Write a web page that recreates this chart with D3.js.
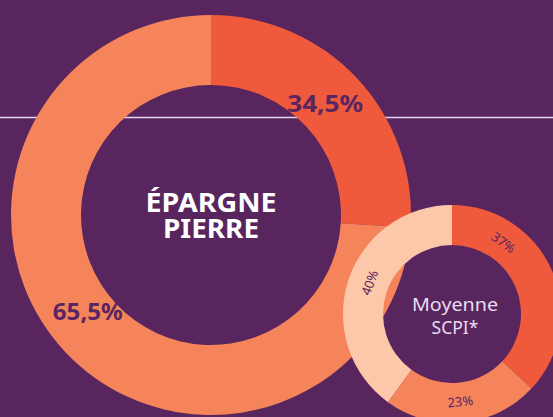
<!DOCTYPE html>
<html>
<head>
<meta charset="utf-8">
<script src="https://cdn.jsdelivr.net/npm/d3@7"></script>
<style>
  html, body { margin: 0; padding: 0; background: #58255F; }
  svg { display: block; }
</style>
</head>
<body>
<script>
// ---- data ----
const bigCategories = ["Part A", "Part B"];
const bigLabels = ["34,5%", "65,5%"];          // printed values
const bigArcShares = [26, 74];                  // slice sizes as drawn in the picture
const bigTitle = ["ÉPARGNE", "PIERRE"];

const smallCategories = ["A", "B", "C"];
const smallValues = [37, 23, 40];
const smallLabels = ["37%", "23%", "40%"];
const smallTitle = ["Moyenne", "SCPI*"];

// ---- setup ----
const W = 553, H = 417;
const svg = d3.select("body").append("svg").attr("width", W).attr("height", H);
svg.append("rect").attr("width", W).attr("height", H).attr("fill", "#58255F");

// horizontal rule behind the chart
svg.append("line").attr("x1", 0).attr("x2", W).attr("y1", 117.5).attr("y2", 117.5)
  .attr("stroke", "#E4D6EC").attr("stroke-width", 1.6);

const FONT = "'Noto Sans', 'Open Sans', sans-serif";
const labelColor = "#5A2662";
const pie = d3.pie().sort(null);

// ---- big donut ----
const bigColor = d3.scaleOrdinal().domain(bigCategories).range(["#F05A3C", "#F5845B"]);
const gBig = svg.append("g").attr("transform", "translate(211,215)");
const bigArc = d3.arc().innerRadius(130).outerRadius(200);
const bigLabelArc = d3.arc().innerRadius(158).outerRadius(158);
const bigPie = pie(bigArcShares);
gBig.selectAll("path").data(bigPie).join("path")
  .attr("d", bigArc)
  .attr("fill", (d, i) => bigColor(bigCategories[i]));

const bigLabelOffsets = [[-1, -3.5], [-8, -12]];
const bigLabelWidths = [76, 70];
gBig.selectAll("text.val").data(bigPie).join("text").attr("class", "val")
  .attr("x", (d, i) => bigLabelArc.centroid(d)[0] + bigLabelOffsets[i][0])
  .attr("y", (d, i) => bigLabelArc.centroid(d)[1] + bigLabelOffsets[i][1])
  .attr("dy", "0.36em")
  .attr("text-anchor", "middle")
  .attr("font-family", FONT).attr("font-weight", 700).attr("font-size", 23.5)
  .attr("textLength", (d, i) => bigLabelWidths[i]).attr("lengthAdjust", "spacingAndGlyphs")
  .attr("fill", labelColor)
  .text((d, i) => bigLabels[i]);

const bigTitleWidths = [131, 96];
gBig.selectAll("text.title").data(bigTitle).join("text").attr("class", "title")
  .attr("x", 0).attr("y", (d, i) => -3 + i * 26)
  .attr("text-anchor", "middle")
  .attr("font-family", FONT).attr("font-weight", 700).attr("font-size", 27.5)
  .attr("textLength", (d, i) => bigTitleWidths[i]).attr("lengthAdjust", "spacingAndGlyphs")
  .attr("fill", "#FFFFFF")
  .text(d => d);

// ---- small donut ----
const smallColor = d3.scaleOrdinal().domain(smallCategories).range(["#F05A3C", "#F5845B", "#FDC7AA"]);
const gSmall = svg.append("g").attr("transform", "translate(452,314)");
const smallArc = d3.arc().innerRadius(69).outerRadius(109);
const smallPie = pie(smallValues);
gSmall.selectAll("path").data(smallPie).join("path")
  .attr("d", smallArc)
  .attr("fill", (d, i) => smallColor(smallCategories[i]));

const smallLabelR = 88;
const smallLabelShift = [-0.54, 0, 0.05]; // angular nudge (radians) of each label
gSmall.selectAll("text.val").data(smallPie).join("text").attr("class", "val")
  .attr("transform", (d, i) => {
    const a = (d.startAngle + d.endAngle) / 2 + smallLabelShift[i];
    const x = smallLabelR * Math.sin(a), y = -smallLabelR * Math.cos(a);
    let deg = a * 180 / Math.PI;
    if (deg > 90 && deg < 270) deg -= 180;
    else if (deg >= 270) deg -= 360;
    return `translate(${x},${y}) rotate(${deg})`;
  })
  .attr("dy", "0.36em")
  .attr("text-anchor", "middle")
  .attr("font-family", FONT).attr("font-weight", 400).attr("font-size", 13)
  .attr("fill", labelColor)
  .text((d, i) => smallLabels[i]);

const smallTitleWidths = [86, 47];
gSmall.selectAll("text.title").data(smallTitle).join("text").attr("class", "title")
  .attr("x", 3).attr("y", (d, i) => -3 + i * 23)
  .attr("text-anchor", "middle")
  .attr("font-family", FONT).attr("font-weight", 400).attr("font-size", 18)
  .attr("textLength", (d, i) => smallTitleWidths[i]).attr("lengthAdjust", "spacingAndGlyphs")
  .attr("fill", "#E8DDEE")
  .text(d => d);
</script>
</body>
</html>
